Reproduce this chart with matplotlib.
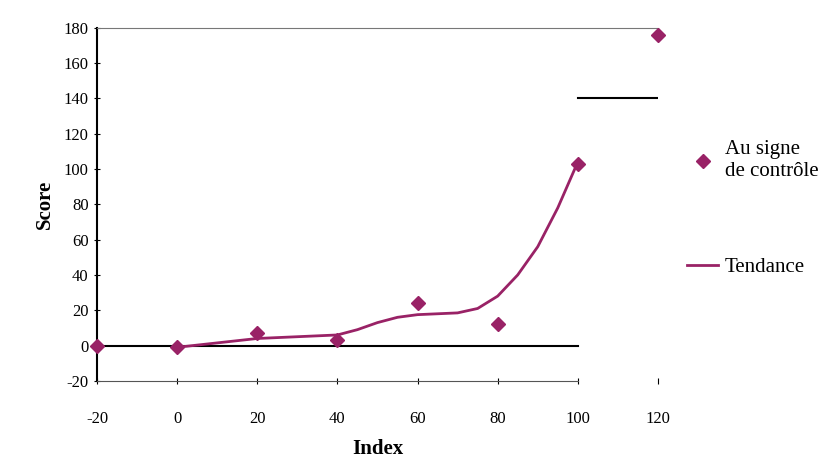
import matplotlib.pyplot as plt

# measured points (diamonds)
idx = [-20, 0, 20, 40, 60, 80, 100, 120]
score = [0, -1, 7, 3, 24, 12, 103, 176]

# fitted curve
curve_x = [0, 10, 20, 30, 40, 45, 50, 55, 60, 65, 70, 75, 80, 85, 90, 95, 100]
curve_y = [-1, 1.5, 4, 5, 6, 9, 13, 16, 17.5, 18, 18.5, 21, 28, 40, 56, 78, 104]

x_ticks = [-20, 0, 20, 40, 60, 80, 100, 120]
y_ticks = [-20, 0, 20, 40, 60, 80, 100, 120, 140, 160, 180]

col = '#992266'
plt.rcParams['font.family'] = ['Liberation Serif', 'DejaVu Serif']
plt.rcParams['axes.unicode_minus'] = False
plt.rcParams['lines.solid_joinstyle'] = 'round'

fig = plt.figure(figsize=(8.36, 4.65), dpi=100)
ax = fig.add_axes([0.116, 0.181, 0.671, 0.759])

pts, = ax.plot(idx, score, linestyle='none', marker='D', markersize=7,
               color=col, label='Au signe\nde contrôle', zorder=4, clip_on=False)
fit, = ax.plot(curve_x, curve_y, color=col, linewidth=2, label='Tendance', zorder=3)

# horizontal reference lines
ax.plot([-20, 100], [0, 0], color='black', linewidth=1.5, zorder=2)
ax.plot([100, 120], [140, 140], color='black', linewidth=1.5, zorder=2)

ax.set_xlim(-20, 120)
ax.set_ylim(-20, 180)
ax.set_xticks(x_ticks)
ax.set_yticks(y_ticks)

ax.spines['right'].set_visible(False)
ax.spines['bottom'].set_bounds(-20, 100)
ax.spines['bottom'].set_color('#555555')
ax.spines['top'].set_color('#777777')
ax.spines['left'].set_linewidth(1.5)

ax.tick_params(axis='x', length=4, direction='inout', pad=20, labelsize=12)
ax.tick_params(axis='y', length=4, direction='inout', pad=4, labelsize=12)

ax.set_xlabel('Index', fontsize=15, fontweight='bold', labelpad=8)
ax.set_ylabel('Score', fontsize=15, fontweight='bold', labelpad=6)

fig.legend(handles=[pts, fit], loc='upper left', bbox_to_anchor=(0.822, 0.698),
           frameon=False, fontsize=15, handlelength=1.5, handletextpad=0.3,
           borderpad=0, borderaxespad=0, labelspacing=3.65)

fig.savefig('out.png', dpi=100)
